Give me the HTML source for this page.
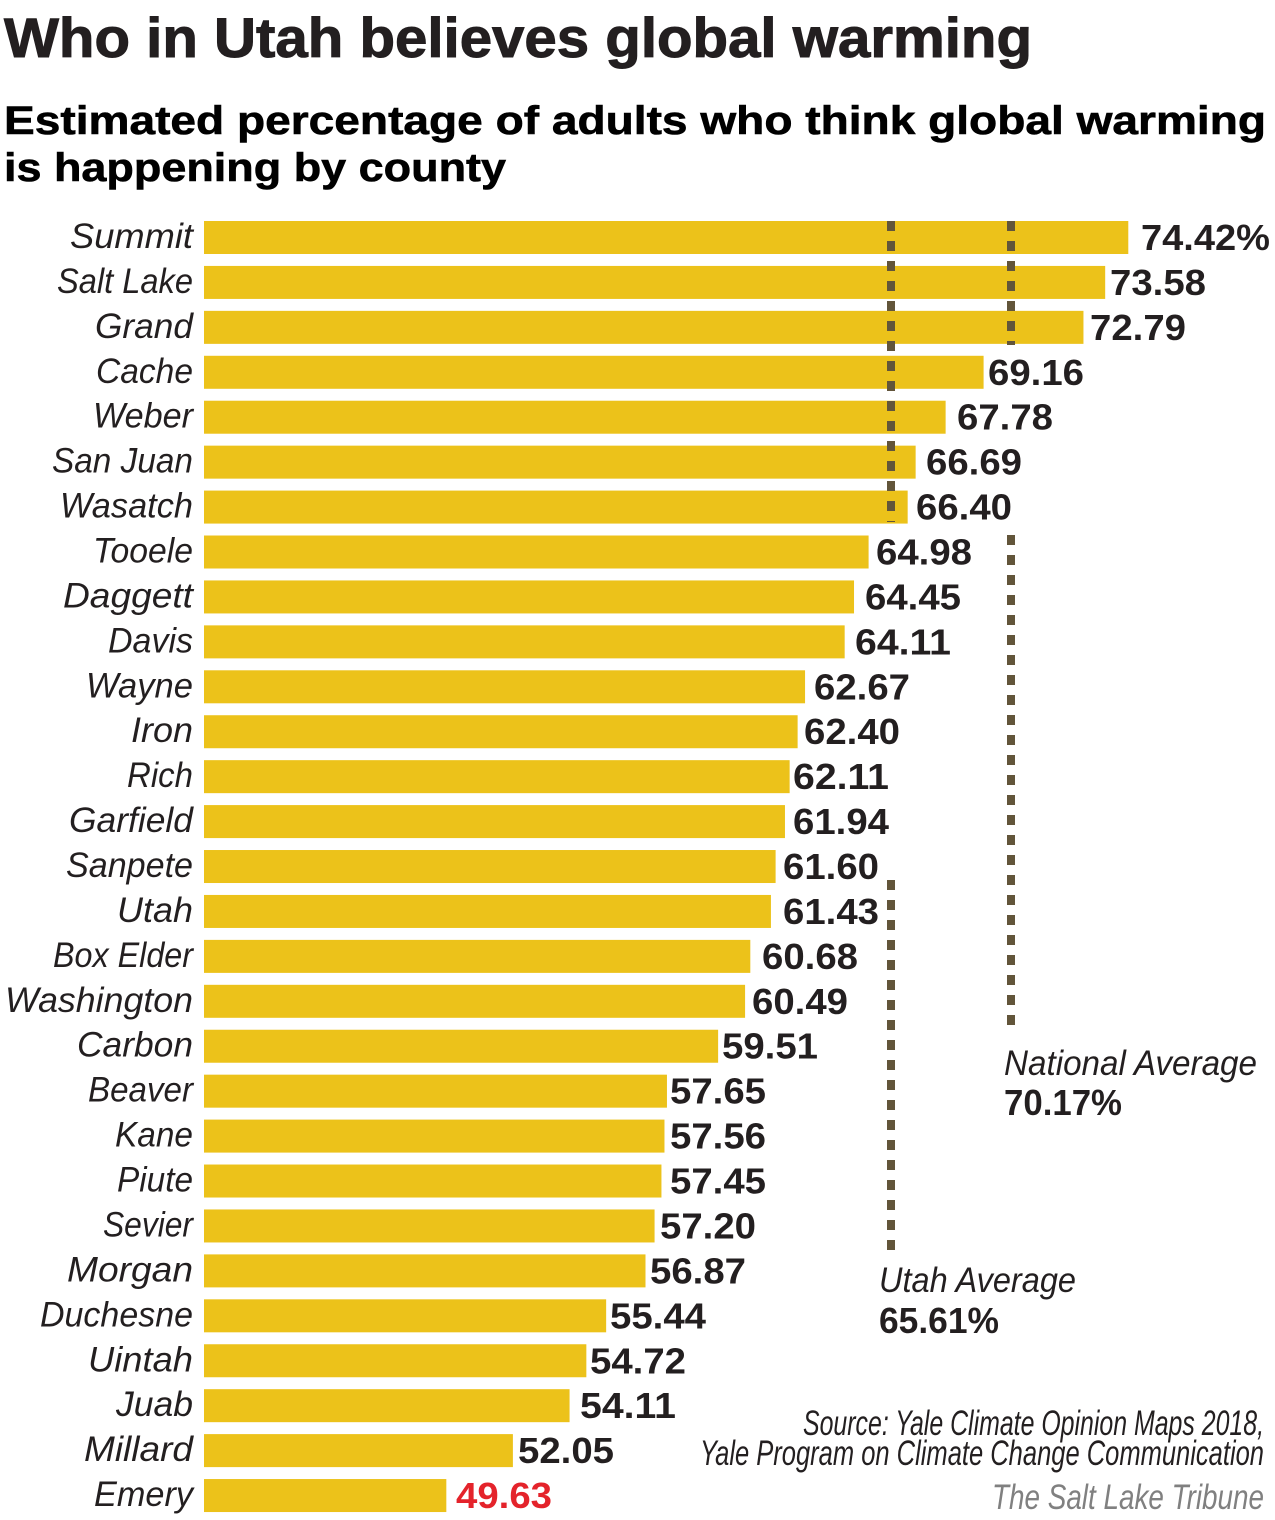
<!DOCTYPE html>
<html><head><meta charset="utf-8"><style>
html,body{margin:0;padding:0;background:#fff;}
svg{display:block;}
.lab{font-family:"Liberation Sans",sans-serif;font-style:italic;font-size:35px;fill:#231f20;}
.val{font-family:"Liberation Sans",sans-serif;font-weight:bold;font-size:36px;fill:#231f20;}
</style></head><body>
<svg width="1275" height="1520" viewBox="0 0 1275 1520" xmlns="http://www.w3.org/2000/svg">
<text x="4" y="57" font-family="Liberation Sans, sans-serif" font-weight="bold" font-size="56" fill="#231f20" stroke="#231f20" stroke-width="1" textLength="1028" lengthAdjust="spacingAndGlyphs">Who in Utah believes global warming</text>
<text x="4" y="134" font-family="Liberation Sans, sans-serif" font-weight="bold" font-size="40" fill="#000" stroke="#000" stroke-width="0.6" textLength="1262" lengthAdjust="spacingAndGlyphs">Estimated percentage of adults who think global warming</text>
<text x="4" y="181" font-family="Liberation Sans, sans-serif" font-weight="bold" font-size="40" fill="#000" stroke="#000" stroke-width="0.6" textLength="502" lengthAdjust="spacingAndGlyphs">is happening by county</text>
<g id="bars"></g>
<g stroke="#62553a" stroke-width="8" stroke-dasharray="10 10">
<line x1="891" y1="221" x2="891" y2="522"/>
<line x1="891" y1="880" x2="891" y2="1255"/>
<line x1="1011" y1="221" x2="1011" y2="345"/>
<line x1="1011" y1="535" x2="1011" y2="1035"/>
</g>
<text x="1004" y="1075" class="lab" font-size="35" textLength="253" lengthAdjust="spacingAndGlyphs">National Average</text>
<text x="1004" y="1115" class="val" textLength="118" lengthAdjust="spacingAndGlyphs">70.17%</text>
<text x="879" y="1292" class="lab" font-size="35" textLength="197" lengthAdjust="spacingAndGlyphs">Utah Average</text>
<text x="879" y="1333" class="val" textLength="120" lengthAdjust="spacingAndGlyphs">65.61%</text>
<text x="1264" y="1435" class="lab" font-size="26" text-anchor="end" textLength="461" lengthAdjust="spacingAndGlyphs">Source:  Yale Climate Opinion Maps 2018,</text>
<text x="1264" y="1465" class="lab" font-size="26" text-anchor="end" textLength="564" lengthAdjust="spacingAndGlyphs">Yale Program on Climate Change Communication</text>
<text x="1264" y="1509" class="lab" font-size="30" text-anchor="end" style="fill:#808080" textLength="272" lengthAdjust="spacingAndGlyphs">The Salt Lake Tribune</text>
</svg>
<script>
const d=[["Summit",74.42,70,1141],["Salt Lake",73.58,57,1110],["Grand",72.79,95,1090],["Cache",69.16,96,988],["Weber",67.78,93,957],["San Juan",66.69,52,926],["Wasatch",66.40,60,916],["Tooele",64.98,93,876],["Daggett",64.45,63,865],["Davis",64.11,108,855],["Wayne",62.67,86,814],["Iron",62.40,131,804],["Rich",62.11,127,793],["Garfield",61.94,69,793],["Sanpete",61.60,66,783],["Utah",61.43,117,783],["Box Elder",60.68,53,762],["Washington",60.49,5,752],["Carbon",59.51,77,722],["Beaver",57.65,88,670],["Kane",57.56,115,670],["Piute",57.45,117,670],["Sevier",57.20,103,660],["Morgan",56.87,67,650],["Duchesne",55.44,40,610],["Uintah",54.72,88,590],["Juab",54.11,116,580],["Millard",52.05,84,518],["Emery",49.63,94,456]];
const ns="http://www.w3.org/2000/svg",g=document.getElementById("bars");
d.forEach((r,i)=>{
 const top=221+i*44.93, x2=-919+r[1]*27.51;
 const rc=document.createElementNS(ns,"rect");
 rc.setAttribute("x",204);rc.setAttribute("y",top);rc.setAttribute("width",x2-204);rc.setAttribute("height",33);rc.setAttribute("fill","#ecc21a");g.appendChild(rc);
 const t=document.createElementNS(ns,"text");
 t.setAttribute("x",r[2]);t.setAttribute("y",top+27);t.setAttribute("class","lab");
 t.setAttribute("textLength",193-r[2]);t.setAttribute("lengthAdjust","spacingAndGlyphs");
 t.textContent=r[0];g.appendChild(t);
 const v=document.createElementNS(ns,"text");
 const s=i==0?"74.42%":r[1].toFixed(2);
 v.setAttribute("x",r[3]);v.setAttribute("y",top+29);v.setAttribute("class","val");
 v.setAttribute("textLength",i==0?129:96);v.setAttribute("lengthAdjust","spacingAndGlyphs");
 if(i==28)v.setAttribute("style","fill:#e4232b");
 v.textContent=s;g.appendChild(v);
});
</script>
</body></html>
